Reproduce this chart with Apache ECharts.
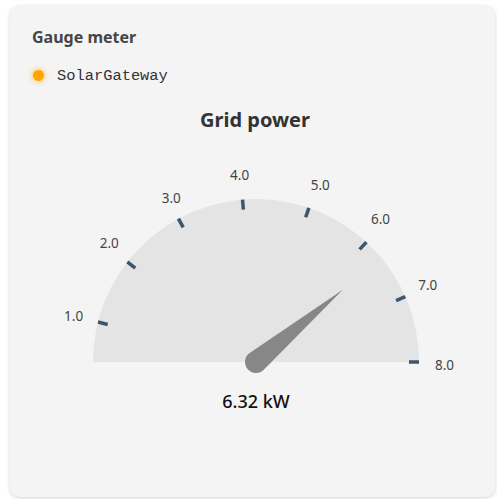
<!DOCTYPE html>
<html>
<head>
<meta charset="utf-8">
<script src="https://cdn.jsdelivr.net/npm/echarts@6/dist/echarts.min.js"></script>
<style>
  html, body { margin: 0; padding: 0; background: #ffffff; }
  body { width: 497px; height: 499px; position: relative; overflow: hidden; }
  .card {
    position: absolute; left: 10px; top: 6px; width: 485px; height: 491px;
    background: #f4f4f4; border-radius: 10px;
    box-shadow: 0 1px 4px rgba(0, 0, 0, 0.18);
  }
  #chart { position: absolute; left: 0; top: 0; width: 497px; height: 499px; }
</style>
</head>
<body>
<div class="card"></div>
<div id="chart"></div>
<script>
// Gauge configuration values
const cardTitle = 'Gauge meter';
const gaugeTitle = 'Grid power';
const seriesName = 'SolarGateway';
const unit = 'kW';
const currentValue = [6.32];
const scaleMin = 0.4;            // lower end of the dial arc
const scaleMax = 8;              // upper end of the dial arc
const tickValues = [1, 2, 3, 4, 5, 6, 7, 8];

// Geometry of the dial
const cx = 256, cy = 362, radius = 163;
const labelDrop = 3;             // scale numbers sit slightly below the tick rays
const degPerUnit = 180 / (scaleMax - scaleMin);
const firstTick = tickValues[0];
const lastTick = tickValues[tickValues.length - 1];
const tickStartAngle = 180 - (firstTick - scaleMin) * degPerUnit;
const tickEndAngle = 180 - (lastTick - scaleMin) * degPerUnit;

const uiFont = '"Noto Sans", "Liberation Sans", Arial, sans-serif';

const chart = echarts.init(document.getElementById('chart'), null, { renderer: 'svg' });

// shared scale settings for the tick/label series
const scaleBase = {
  type: 'gauge',
  radius: radius,
  min: firstTick, max: lastTick,
  splitNumber: tickValues.length - 1,
  startAngle: tickStartAngle, endAngle: tickEndAngle,
  axisLine: { show: false, lineStyle: { width: 0 } },
  axisTick: { show: false },
  anchor: { show: false },
  title: { show: false }
};

chart.setOption({
  backgroundColor: 'transparent',
  animation: false,
  title: [
    {
      text: cardTitle, left: 27, top: 24,
      textStyle: { fontFamily: uiFont, fontSize: 16, fontWeight: 'bold', color: '#454545' }
    },
    {
      text: gaugeTitle, left: 195, top: 104,
      textStyle: { fontFamily: uiFont, fontSize: 20, fontWeight: 'bold', color: '#333333' }
    }
  ],
  legend: {
    data: [seriesName],
    left: 28, top: 63,
    icon: 'circle', itemWidth: 11, itemHeight: 11, itemGap: 10,
    itemStyle: { color: '#ffa500', shadowBlur: 6, shadowColor: 'rgba(255,165,0,0.8)' },
    formatter: name => '{t|' + name + '}',
    textStyle: {
      rich: {
        t: { fontFamily: '"Liberation Mono", "DejaVu Sans Mono", monospace', fontSize: 15.4, color: '#333333', padding: [0, 0, 0, 8] }
      }
    }
  },
  series: [
    // filled dial face
    {
      type: 'gauge',
      name: seriesName + ' face',
      center: [cx, cy], radius: radius,
      min: scaleMin, max: scaleMax,
      startAngle: 180, endAngle: 0,
      axisLine: { show: true, lineStyle: { width: radius, color: [[1, '#e4e4e4']] } },
      splitLine: { show: false }, axisTick: { show: false }, axisLabel: { show: false },
      pointer: { show: false }, anchor: { show: false },
      title: { show: false }, detail: { show: false },
      silent: true,
      data: []
    },
    // scale numbers
    Object.assign({}, scaleBase, {
      name: seriesName + ' scale',
      center: [cx, cy + labelDrop],
      splitLine: { show: false },
      axisLabel: {
        show: true, distance: -55, align: 'center', verticalAlign: 'middle',
        fontFamily: uiFont, fontSize: 13.5, color: '#444444',
        formatter: v => v.toFixed(1)
      },
      pointer: { show: false },
      detail: { show: false },
      silent: true,
      data: []
    }),
    // tick marks, needle and readout
    Object.assign({}, scaleBase, {
      name: seriesName,
      center: [cx, cy],
      itemStyle: { color: '#ffa500' },
      splitLine: { show: true, distance: 0, length: 10, lineStyle: { width: 3.5, color: '#3b566d' } },
      axisLabel: { show: false },
      pointer: {
        show: true,
        icon: 'path://M11,0L22,113A11,11,0,1,1,0,113Z',
        length: 124, width: 22, offsetCenter: [0, 11],
        itemStyle: { color: '#878787' }
      },
      detail: {
        show: true, offsetCenter: [0, 39],
        fontFamily: uiFont, fontSize: 18, color: '#111111', fontWeight: 500,
        formatter: v => v.toFixed(2) + ' ' + unit
      },
      data: [{ value: currentValue[0], name: seriesName }]
    })
  ]
});
</script>
</body>
</html>
